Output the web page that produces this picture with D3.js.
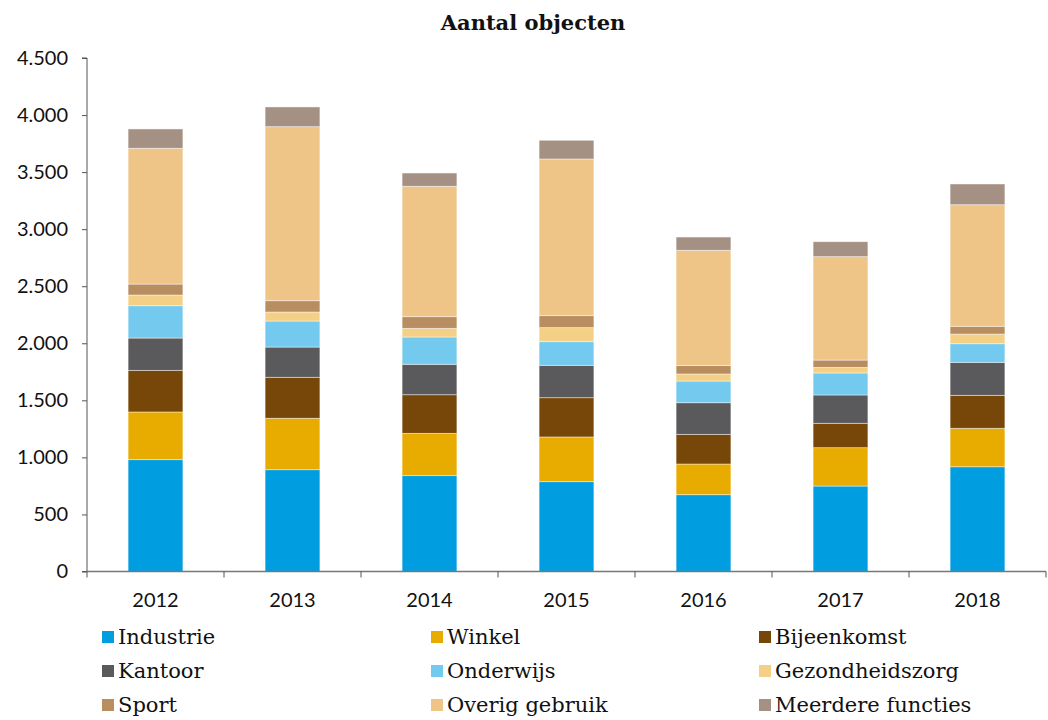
<!DOCTYPE html>
<html><head><meta charset="utf-8">
<script src="https://cdn.jsdelivr.net/npm/d3@7"></script>
<style>body{margin:0;background:#fff}svg{display:block}</style>
</head><body>
<svg id="c" width="1048" height="720"></svg>
<script>
const years = ["2012","2013","2014","2015","2016","2017","2018"];
const seriesNames = ["Industrie","Winkel","Bijeenkomst","Kantoor","Onderwijs","Gezondheidszorg","Sport","Overig gebruik","Meerdere functies"];
const industrie   = [980, 892, 840, 787, 673, 749, 918];
const winkel      = [418, 451, 371, 392, 269, 336, 337];
const bijeenkomst = [365, 359, 338, 344, 260, 214, 289];
const kantoor     = [283, 265, 267, 284, 277, 248, 289];
const onderwijs   = [283, 228, 239, 207, 190, 193, 163];
const gezondheid  = [94, 79, 76, 123, 62, 49, 85];
const sport       = [96, 99, 102, 105, 73, 64, 68];
const overig      = [1190, 1525, 1143, 1373, 1011, 906, 1065];
const meerdere    = [169, 173, 116, 164, 116, 131, 182];
const yTicks = [0,500,1000,1500,2000,2500,3000,3500,4000,4500];
const colors = ["#009EE0","#E8AB00","#774709","#5A5A5C","#74CAEE","#F4D086","#B88D5F","#EEC487","#A59183"];
const seriesValues = [industrie,winkel,bijeenkomst,kantoor,onderwijs,gezondheid,sport,overig,meerdere];

const rows = years.map((y,i)=>{const o={year:y};seriesNames.forEach((n,k)=>o[n]=seriesValues[k][i]);return o;});
const stacked = d3.stack().keys(seriesNames)(rows);

const svg = d3.select("#c");
const L=87, R=1046, T=58, B=571.5;
const x = d3.scaleBand().domain(years).range([L,R]).paddingInner(0.6).paddingOuter(0.3);
const y = d3.scaleLinear().domain([0,4500]).range([B,T]);
const color = d3.scaleOrdinal().domain(seriesNames).range(colors);

svg.append("text").attr("x",533).attr("y",30).attr("text-anchor","middle")
  .attr("font-family","'DejaVu Serif'").attr("font-weight","bold").attr("font-size",21)
  .attr("fill","#111").text("Aantal objecten");

svg.append("g").selectAll("g").data(stacked).join("g").attr("fill",d=>color(d.key))
  .selectAll("rect").data(d=>d).join("rect")
  .attr("x",d=>x(d.data.year)).attr("width",x.bandwidth())
  .attr("y",d=>y(d[1])).attr("height",d=>y(d[0])-y(d[1]))
  .attr("stroke","rgba(255,255,255,0.55)").attr("stroke-width",0.8);

// y axis
const ya = svg.append("g").attr("transform",`translate(${L},0)`)
  .call(d3.axisLeft(y).tickValues(yTicks).tickSize(5).tickPadding(14)
    .tickFormat(d=>d3.format(",")(d).replace(/,/g,".")));
ya.select(".domain").attr("stroke","#555").attr("d",`M-5,${T}H0V${B}H-5`);
ya.selectAll(".tick line").attr("stroke","#555");
ya.selectAll("text").attr("font-family","Lato").attr("font-size",20).attr("fill","#111");

// x axis
const xa = svg.append("g").attr("transform",`translate(0,${B})`)
  .call(d3.axisBottom(x).tickSize(0));
xa.select(".domain").attr("stroke","#777").attr("stroke-width",1.5).attr("d",`M${L},0H${R}`);
xa.selectAll("text").attr("font-family","Lato").attr("font-size",20).attr("fill","#111")
  .attr("y",35.5).attr("dy",0);
const bounds = d3.range(years.length+1).map(i=>L+i*(R-L)/years.length);
xa.selectAll(".sep").data(bounds).join("line").attr("class","sep")
  .attr("x1",d=>d).attr("x2",d=>d).attr("y1",0).attr("y2",6).attr("stroke","#555");

// legend
const cols=[102,431,759], rowsY=[637,671,705];
const lg = svg.append("g");
seriesNames.forEach((n,i)=>{
  const cx=cols[i%3], cy=rowsY[Math.floor(i/3)];
  lg.append("rect").attr("x",cx).attr("y",cy-6).attr("width",12).attr("height",12).attr("fill",color(n));
  lg.append("text").attr("x",cx+16).attr("y",cy).attr("dy","0.35em")
    .attr("font-family","'DejaVu Serif'").attr("font-size",21).attr("fill","#111").text(n);
});
</script>
</body></html>
